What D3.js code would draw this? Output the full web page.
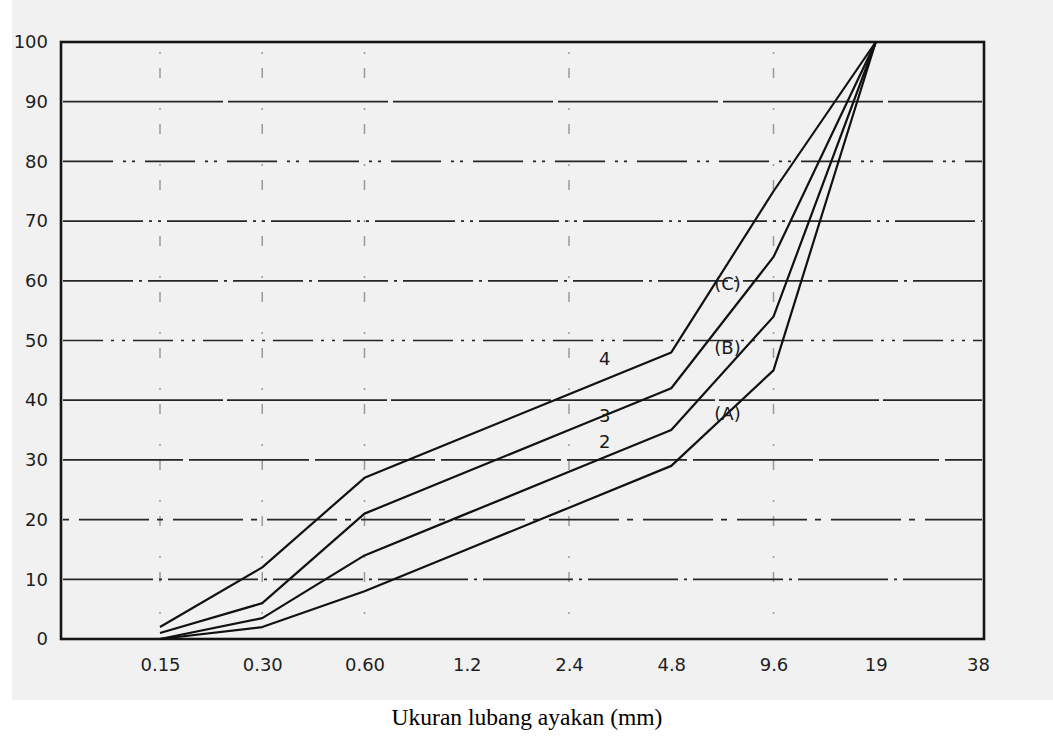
<!DOCTYPE html>
<html>
<head>
<meta charset="utf-8">
<script src="https://cdn.jsdelivr.net/npm/d3@7"></script>
<style>
  html, body { margin: 0; padding: 0; background: #ffffff; }
  svg { display: block; }
</style>
</head>
<body>
<svg id="chart" width="1053" height="740"></svg>
<script>
// ---- data ----
const sieveLabels = ["0.15", "0.30", "0.60", "1.2", "2.4", "4.8", "9.6", "19", "38"];
const yTicks = [0, 10, 20, 30, 40, 50, 60, 70, 80, 90, 100];
// percent passing at sieves 0.15 .. 19 (index 0..7)
const curve1 = [0, 2, 8, 15, 22, 29, 45, 100];
const curve2 = [0, 3.5, 14, 21, 28, 35, 54, 100];
const curve3 = [1, 6, 21, 28, 35, 42, 64, 100];
const curve4 = [2, 12, 27, 34, 41, 48, 75, 100];
// annotation labels: text, sieve-index position, percent
const labelText = ["4", "3", "2", "(C)", "(B)", "(A)"];
const labelIdx = [4.35, 4.35, 4.35, 5.55, 5.55, 5.55];
const labelVal = [47, 37.5, 33, 59.5, 48.8, 37.8];
const xTitle = "Ukuran lubang ayakan (mm)";

// ---- styles ----
const gridDash = ["", "90,6,3,6", "6,10,70,8", "120,6", "160,4", "40,8,3,8,3,8", "70,6,3,6", "80,6,3,6,3,6", "50,10,3,6,3,10", "160,5", ""];
const vGridIdx = [0, 1, 2, 4, 6];

(function () {
const svg = d3.select("#chart");
const W = 1053, H = 740;
const pL = 61, pR = 984, pT = 42, pB = 639;
const sans = "DejaVu Sans, Verdana, sans-serif";

// scan-like background
svg.append("rect").attr("x", 0).attr("y", 0).attr("width", W).attr("height", H).attr("fill", "#ffffff");
svg.append("rect").attr("x", 12).attr("y", 0).attr("width", W - 12).attr("height", 700).attr("fill", "#f1f1f1");

const x = d3.scaleLinear().domain([0, 8]).range([160, 978]);
const y = d3.scaleLinear().domain([0, 100]).range([pB, pT]);

// vertical faint grid
svg.append("g").selectAll("line").data(vGridIdx).join("line")
  .attr("x1", d => x(d)).attr("x2", d => x(d))
  .attr("y1", pT + 10).attr("y2", pB - 20)
  .attr("stroke", "#333").attr("stroke-width", 1.5)
  .attr("stroke-dasharray", "2,14,10,30")
  .attr("opacity", 0.45);

// horizontal grid
svg.append("g").selectAll("line").data(yTicks.filter(v => v > 0 && v < 100)).join("line")
  .attr("x1", pL + 2).attr("x2", pR - 2)
  .attr("y1", d => y(d)).attr("y2", d => y(d))
  .attr("stroke", "#262626").attr("stroke-width", 1.7)
  .attr("stroke-dasharray", d => gridDash[d / 10]);

// frame
svg.append("rect")
  .attr("x", pL).attr("y", pT).attr("width", pR - pL).attr("height", pB - pT)
  .attr("fill", "none").attr("stroke", "#151515").attr("stroke-width", 2.6);

// y axis labels
const yAxis = d3.axisLeft(y).tickValues(yTicks).tickSize(0).tickPadding(13);
const gy = svg.append("g").attr("transform", `translate(${pL},0)`).call(yAxis);
gy.select(".domain").remove();
gy.selectAll("text")
  .attr("font-family", sans)
  .attr("font-size", 18).attr("fill", "#1e1e1e");

// x axis labels
const xAxis = d3.axisBottom(x).tickValues(d3.range(sieveLabels.length))
  .tickFormat(i => sieveLabels[i]).tickSize(0).tickPadding(19);
const gx = svg.append("g").attr("transform", `translate(0,${pB})`).call(xAxis);
gx.select(".domain").remove();
gx.selectAll("text")
  .attr("font-family", sans)
  .attr("font-size", 18).attr("fill", "#1e1e1e");

// curves
const curves = [curve1, curve2, curve3, curve4];
const line = d3.line().x((d, i) => x(i)).y(d => y(d));
svg.append("g").selectAll("path").data(curves).join("path")
  .attr("d", line)
  .attr("fill", "none").attr("stroke", "#111").attr("stroke-width", 2.2)
  .attr("stroke-linejoin", "round");

// curve labels
svg.append("g").selectAll("text").data(labelText).join("text")
  .attr("x", (d, i) => x(labelIdx[i])).attr("y", (d, i) => y(labelVal[i]))
  .attr("text-anchor", "middle").attr("dominant-baseline", "central")
  .attr("font-family", sans)
  .attr("font-size", 18).attr("fill", "#1a1a1a")
  .text(d => d);

// x title
svg.append("text")
  .attr("x", 527).attr("y", 725)
  .attr("text-anchor", "middle")
  .attr("font-family", "Liberation Serif, Times New Roman, serif")
  .attr("font-size", 23.5).attr("fill", "#000")
  .text(xTitle);
})();
</script>
</body>
</html>
